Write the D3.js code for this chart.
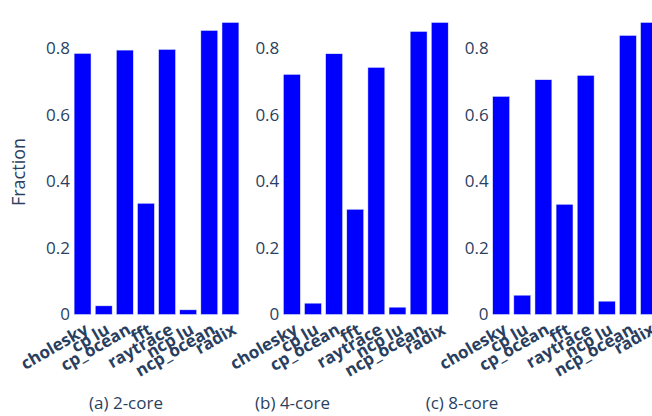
<!DOCTYPE html>
<html>
<head>
<meta charset="utf-8">
<script src="https://cdn.jsdelivr.net/npm/d3@7"></script>
<style>
  body { margin: 0; background: #fff; }
  svg { display: block; font-family: "Open Sans", sans-serif; }
</style>
</head>
<body>
<div id="chart"></div>
<script>
// benchmarks and fraction per core count
const categories = ['cholesky', 'cp lu', 'cp_ocean', 'fft', 'raytrace', 'ncp lu', 'ncp_ocean', 'radix'];
const frac2core = [0.784, 0.026, 0.794, 0.334, 0.796, 0.014, 0.853, 0.877];
const frac4core = [0.721, 0.034, 0.783, 0.316, 0.742, 0.022, 0.850, 0.877];
const frac8core = [0.655, 0.058, 0.705, 0.331, 0.718, 0.040, 0.838, 0.877];
const yTicks = [0, 0.2, 0.4, 0.6, 0.8];
const panelTitles = ['(a) 2-core', '(b) 4-core', '(c) 8-core'];

const series = [frac2core, frac4core, frac8core];

const width = 652, height = 416;
const textColor = '#2a3f5f';

const svg = d3.select('#chart')
    .append('svg')
    .attr('width', width)
    .attr('height', height);

// shared y scale
const y = d3.scaleLinear()
    .domain([0, 0.9])
    .range([314.5, 314.5 - 0.9 * 333]);

const panelLeft = 72, panelWidth = 169, panelStep = 209.3;
const titleX = [126, 292.5, 462];

series.forEach((values, p) => {
    const x0 = panelLeft + p * panelStep;
    const x = d3.scaleBand()
        .domain(categories)
        .range([x0, x0 + panelWidth])
        .paddingInner(0.2)
        .paddingOuter(0.1);

    const g = svg.append('g');

    // bars
    g.selectAll('.bar')
        .data(values)
        .enter()
        .append('rect')
        .attr('class', 'bar')
        .attr('x', (d, i) => x(categories[i]))
        .attr('y', d => y(d))
        .attr('width', x.bandwidth())
        .attr('height', d => y(0) - y(d))
        .attr('fill', '#0000ff')
        .attr('stroke', '#E5ECF6')
        .attr('stroke-width', 0.5);

    // y axis
    const yAxis = g.append('g')
        .attr('transform', `translate(${x0},0)`)
        .call(d3.axisLeft(y).tickValues(yTicks).tickFormat(d3.format('~g')).tickSize(0).tickPadding(2));
    yAxis.select('.domain').remove();
    yAxis.selectAll('text')
        .style('font-size', '17px')
        .style('font-family', 'Open Sans')
        .attr('fill', textColor);

    // x axis, labels rotated
    const xAxis = g.append('g')
        .attr('transform', `translate(0,${y(0)})`)
        .call(d3.axisBottom(x).tickSize(0));
    xAxis.select('.domain').remove();
    xAxis.selectAll('text')
        .style('font-size', '17px')
        .style('font-weight', 'bold')
        .style('font-family', 'Open Sans')
        .attr('fill', textColor)
        .attr('text-anchor', 'end')
        .attr('x', 0)
        .attr('y', 0)
        .attr('dy', '0.71em')
        .attr('transform', 'translate(1,8) rotate(-30)');

    // panel caption
    svg.append('text')
        .attr('x', titleX[p])
        .attr('y', 409)
        .attr('text-anchor', 'middle')
        .style('font-size', '17px')
        .attr('fill', textColor)
        .text(panelTitles[p]);
});

// y axis title
svg.append('text')
    .attr('transform', 'translate(25,172) rotate(-90)')
    .attr('text-anchor', 'middle')
    .style('font-size', '18px')
    .attr('fill', textColor)
    .text('Fraction');
</script>
</body>
</html>
